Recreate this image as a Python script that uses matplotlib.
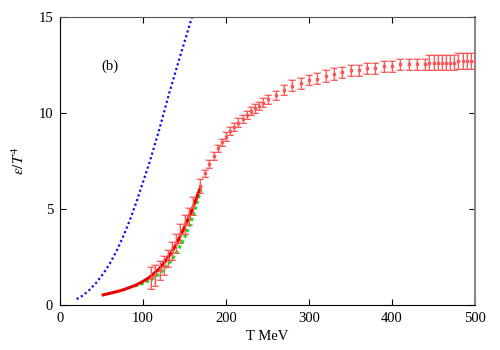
import matplotlib
matplotlib.use("Agg")
import matplotlib.pyplot as plt
import numpy as np

plt.rcParams['font.family'] = ['Liberation Serif', 'DejaVu Serif']
plt.rcParams['mathtext.fontset'] = 'stix'

# Blue dotted curve
blue_T = [20, 28, 36, 44, 52, 60, 68, 76, 84, 92, 100, 108, 120, 132, 145, 159]
blue_v = [0.3, 0.5, 0.8, 1.17, 1.62, 2.15, 2.8, 3.55, 4.4, 5.35, 6.4, 7.45, 9.2, 11.1, 13.0, 15.0]

# Red solid curve
red_T = [52, 60, 72, 80, 92, 100, 108, 120, 130, 140, 150, 160, 169]
red_v = [0.52, 0.6, 0.73, 0.84, 1.04, 1.22, 1.44, 1.9, 2.45, 3.15, 4.05, 5.05, 6.1]

# Green dotted curve
green_T = [90, 100, 110, 120, 130, 140, 150, 160, 171]
green_v = [0.98, 1.13, 1.32, 1.62, 2.08, 2.68, 3.5, 4.6, 6.2]

# Lattice data with errors
lat_T = [110, 115, 120, 125, 130, 135, 140, 145, 150, 155, 160, 169, 175, 180, 185,
         190, 195, 200, 205, 210, 215, 220, 225, 230, 235, 240, 245, 250, 260, 270,
         280, 290, 300, 310, 320, 330, 340, 350, 360, 370, 380, 390, 400, 410, 420,
         430, 440, 445, 450, 455, 460, 465, 470, 475, 480, 485, 490, 495, 500]
lat_v = [1.4, 1.55, 1.8, 2.05, 2.4, 2.8, 3.2, 3.7, 4.2, 4.6, 5.15, 6.2, 6.85, 7.33, 7.76,
         8.16, 8.47, 8.77, 9.06, 9.27, 9.5, 9.7, 9.9, 10.1, 10.24, 10.38, 10.54, 10.71, 10.92, 11.2,
         11.42, 11.55, 11.72, 11.8, 11.93, 12.03, 12.12, 12.22, 12.22, 12.33, 12.33, 12.43, 12.43, 12.54, 12.54,
         12.54, 12.54, 12.62, 12.62, 12.62, 12.62, 12.62, 12.62, 12.62, 12.72, 12.72, 12.72, 12.72, 12.72]
lat_err = [0.55, 0.55, 0.48, 0.5, 0.45, 0.47, 0.5, 0.5, 0.5, 0.45, 0.45, 0.35, 0.2, 0.2, 0.2,
           0.2, 0.2, 0.22, 0.22, 0.22, 0.22, 0.22, 0.22, 0.22, 0.22, 0.22, 0.22, 0.25, 0.25, 0.25,
           0.28, 0.28, 0.28, 0.3, 0.3, 0.3, 0.3, 0.3, 0.3, 0.3, 0.3, 0.3, 0.3, 0.3, 0.3,
           0.3, 0.3, 0.4, 0.4, 0.4, 0.4, 0.4, 0.4, 0.4, 0.43, 0.43, 0.43, 0.43, 0.43]

fig = plt.figure(figsize=(5, 3.5), dpi=100)
ax = fig.add_axes([0.12, 0.129, 0.83, 0.822])

ax.plot(blue_T, blue_v, color='#1010ee', linestyle=(0, (1, 1.2)), linewidth=1.6)
ax.plot(green_T, green_v, color='#22dd22', linestyle=(0, (1, 0.8)), linewidth=2.4, zorder=3)
ax.plot(red_T, red_v, color='#ee0000', linestyle='-', linewidth=2.2, zorder=4)

ax.errorbar(lat_T, lat_v, yerr=lat_err, fmt='none', ecolor='#ffc4c4',
            elinewidth=1.6, capsize=2.6, capthick=1.4, zorder=2)
ax.errorbar(lat_T, lat_v, yerr=lat_err, fmt='s', color='#ff5555', markersize=2,
            ecolor='#ff5555', elinewidth=0.7, capsize=2.3, capthick=0.7, zorder=5)

ax.set_xlim(0, 500)
ax.set_ylim(0, 15)
ax.set_xticks([0, 100, 200, 300, 400, 500])
ax.set_yticks([0, 5, 10, 15])
ax.tick_params(direction='in', length=4, width=0.8, labelsize=10.5, top=True, right=True, pad=5)

ax.spines['left'].set_color('black')
ax.spines['bottom'].set_color('black')
ax.spines['top'].set_color('#555555')
ax.spines['right'].set_color('#888888')
ax.spines['right'].set_linewidth(1.5)

ax.set_xlabel('T MeV', fontsize=10.5, labelpad=4)
ax.set_ylabel(r'$\varepsilon/T^4$', fontsize=11, labelpad=8)
ax.text(60, 12.45, '(b)', fontsize=10.5, ha='center', va='center')

fig.savefig('out.png', dpi=100)
